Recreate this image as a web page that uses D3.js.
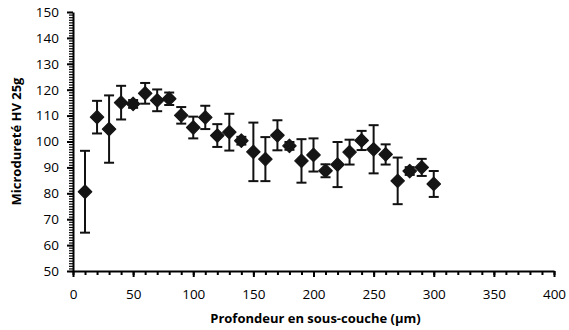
<!DOCTYPE html>
<html lang="fr">
<meta charset="utf-8">
<title>Microdureté</title>
<style>
  body { margin: 0; background: #fff; }
  text { font-family: "Open Sans", "Liberation Sans", sans-serif; fill: #000; }
</style>
<body>
<div id="chart"></div>
<script src="https://cdn.jsdelivr.net/npm/d3@7/dist/d3.min.js"></script>
<script>
// Profondeur (µm), dureté moyenne et écart (±)
var depth = [10, 20, 30, 40, 50, 60, 70, 80, 90, 100, 110, 120, 130, 140, 150,
             160, 170, 180, 190, 200, 210, 220, 230, 240, 250, 260, 270, 280, 290, 300];
var hardness = [80.6, 109.4, 104.8, 115, 114.5, 118.6, 115.9, 116.5, 110.1, 105.4,
                109.3, 102.3, 103.6, 100.3, 96, 93.2, 102.4, 98.3, 92.5, 94.8,
                88.7, 91.1, 95.9, 100.4, 97, 95, 84.8, 88.6, 90, 83.6];
var errors = [15.8, 6.3, 13, 6.5, 1.5, 4, 4.2, 2.4, 3.2, 4.2,
              4.5, 4.4, 7.1, 1.5, 11.3, 8.5, 5.8, 1.5, 8.4, 6.4,
              2.5, 8.7, 4.8, 3.7, 9.3, 3.9, 9, 1.5, 3.3, 5];
var xTicks = [0, 50, 100, 150, 200, 250, 300, 350, 400];
var yTicks = [50, 60, 70, 80, 90, 100, 110, 120, 130, 140, 150];

var W = 569, H = 330;
var margin = {left: 73, right: 15, top: 12, bottom: 59};

var svg = d3.select("#chart").append("svg")
  .attr("width", W).attr("height", H);

var x = d3.scaleLinear().domain([0, 400]).range([margin.left, W - margin.right]);
var y = d3.scaleLinear().domain([50, 150]).range([H - margin.bottom, margin.top]);

// minor ticks first, then the major axes on top
svg.append("g")
  .attr("transform", "translate(0," + y(50) + ")")
  .call(d3.axisBottom(x).tickValues(d3.range(0, 401, 10)).tickSize(4).tickFormat(""))
  .call(g => g.select(".domain").remove())
  .selectAll("line").attr("stroke", "#000").attr("stroke-width", 2);

svg.append("g")
  .attr("transform", "translate(" + x(0) + ",0)")
  .call(d3.axisLeft(y).tickValues(d3.range(50, 151, 1)).tickSize(4).tickFormat(""))
  .call(g => g.select(".domain").remove())
  .selectAll("line").attr("stroke", "#000").attr("stroke-width", 1.2);

var xAxis = svg.append("g")
  .attr("transform", "translate(0," + y(50) + ")")
  .call(d3.axisBottom(x).tickValues(xTicks).tickSize(6).tickPadding(12).tickSizeOuter(0));
var yAxis = svg.append("g")
  .attr("transform", "translate(" + x(0) + ",0)")
  .call(d3.axisLeft(y).tickValues(yTicks).tickSize(6).tickPadding(8).tickSizeOuter(0));

[xAxis, yAxis].forEach(function (a) {
  a.select(".domain").attr("stroke", "#000").attr("stroke-width", 2);
  a.selectAll(".tick line").attr("stroke", "#000").attr("stroke-width", 2);
  a.selectAll(".tick text").style("font-size", "13.5px").attr("fill", "#000");
});

// barres d'erreur
var pts = depth.map(function (d, i) { return {x: d, y: hardness[i], e: errors[i]}; });
var eb = svg.append("g").attr("stroke", "#111").attr("stroke-width", 2);
eb.selectAll(".v").data(pts).enter().append("line")
  .attr("x1", d => x(d.x)).attr("x2", d => x(d.x))
  .attr("y1", d => y(d.y + d.e)).attr("y2", d => y(d.y - d.e));
eb.selectAll(".t").data(pts).enter().append("line")
  .attr("x1", d => x(d.x) - 5).attr("x2", d => x(d.x) + 5)
  .attr("y1", d => y(d.y + d.e)).attr("y2", d => y(d.y + d.e));
eb.selectAll(".b").data(pts).enter().append("line")
  .attr("x1", d => x(d.x) - 5).attr("x2", d => x(d.x) + 5)
  .attr("y1", d => y(d.y - d.e)).attr("y2", d => y(d.y - d.e));

// losanges
var diamond = d3.symbol().type(d3.symbolDiamond2).size(115);
svg.append("g").selectAll("path").data(pts).enter().append("path")
  .attr("d", diamond)
  .attr("transform", d => "translate(" + x(d.x) + "," + y(d.y) + ")")
  .attr("fill", "#151515")
  .attr("stroke", "#151515").attr("stroke-width", 1.2).attr("stroke-linejoin", "round");

// titres des axes
svg.append("text")
  .attr("x", (margin.left + W - margin.right) / 2 + 2).attr("y", 323)
  .attr("text-anchor", "middle")
  .style("font-size", "13px").style("font-weight", "bold")
  .text("Profondeur en sous-couche (µm)");

svg.append("text")
  .attr("transform", "translate(21," + ((margin.top + H - margin.bottom) / 2) + ") rotate(-90)")
  .attr("text-anchor", "middle")
  .style("font-size", "13px").style("font-weight", "bold")
  .text("Microdureté HV 25g");
</script>
</body>
</html>
